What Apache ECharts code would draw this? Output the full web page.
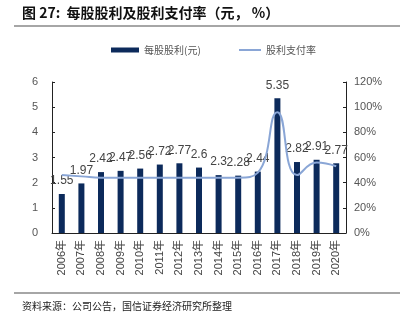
<!DOCTYPE html>
<html><head><meta charset="utf-8">
<script src="https://cdn.jsdelivr.net/npm/echarts@6/dist/echarts.min.js"></script>
<style>html,body{margin:0;padding:0;background:#fff}#c{width:405px;height:326px}</style>
</head><body><div id="c"></div>
<script>
var years = ['2006年','2007年','2008年','2009年','2010年','2011年','2012年','2013年','2014年','2015年','2016年','2017年','2018年','2019年','2020年'];
var dps = [1.55,1.97,2.42,2.47,2.56,2.72,2.77,2.6,2.3,2.28,2.44,5.35,2.82,2.91,2.77];
var payout = [46,45,44,44,44,44,44,44,44,44,48,96,46,56,53];
var leftTicks = [0,6,1];
var rightTicks = [0,120,20];
var font = '"Noto Sans CJK SC", "DejaVu Sans", sans-serif';
var numFont = '"Liberation Sans", "Noto Sans CJK SC", sans-serif';
var chart = echarts.init(document.getElementById('c'));
chart.setOption({
  animation:false,
  textStyle:{fontFamily:font},
  graphic:[
    {type:'text',left:22,top:6,style:{text:'图 27:  每股股利及股利支付率（元， %）',font:'bold 14px '+font,fill:'#111'}},
    {type:'line',shape:{x1:14,y1:26,x2:400,y2:26},style:{stroke:'#888',lineWidth:1.5}},
    {type:'line',shape:{x1:14,y1:293,x2:400,y2:293},style:{stroke:'#888',lineWidth:1.5}},
    {type:'text',left:22,top:301,style:{text:'资料来源：公司公告，国信证券经济研究所整理',font:'10px '+font,fill:'#222'}}
  ],
  legend:[
    {top:40,left:106,itemWidth:28,itemHeight:5,textStyle:{fontSize:10,color:'#555'},
     data:[{name:'每股股利(元)',icon:'rect'}]},
    {top:40,left:234,itemWidth:22,itemHeight:2,textStyle:{fontSize:10,color:'#555'},
     data:[{name:'股利支付率',icon:'rect'}]}
  ],
  grid:{left:52,right:59,top:82,bottom:93},
  xAxis:{type:'category',data:years,
    axisLine:{lineStyle:{color:'#222'}},
    axisTick:{inside:true,length:3,lineStyle:{color:'#222'}},
    axisLabel:{rotate:90,fontSize:11,color:'#444',margin:7,fontFamily:numFont}},
  yAxis:[
    {type:'value',min:leftTicks[0],max:leftTicks[1],interval:leftTicks[2],
     axisLine:{show:true,lineStyle:{color:'#222'}},axisTick:{show:true,inside:true,length:3},
     splitLine:{show:false},axisLabel:{fontSize:11,color:'#555',margin:14,fontFamily:numFont}},
    {type:'value',min:rightTicks[0],max:rightTicks[1],interval:rightTicks[2],
     axisLine:{show:true,lineStyle:{color:'#222'}},axisTick:{show:true,inside:true,length:3},
     splitLine:{show:false},axisLabel:{fontSize:11,color:'#555',formatter:'{value}%',margin:8,fontFamily:numFont}}
  ],
  series:[
    {name:'每股股利(元)',type:'bar',data:dps,barWidth:6,itemStyle:{color:'#0c2a5b'},
     label:{show:true,position:'top',distance:7,fontSize:12,color:'#444',fontFamily:numFont}},
    {name:'股利支付率',type:'line',yAxisIndex:1,data:payout,smooth:true,symbol:'none',
     lineStyle:{color:'#8aa6d6',width:2},itemStyle:{color:'#8aa6d6'}}
  ]
});
</script></body></html>
